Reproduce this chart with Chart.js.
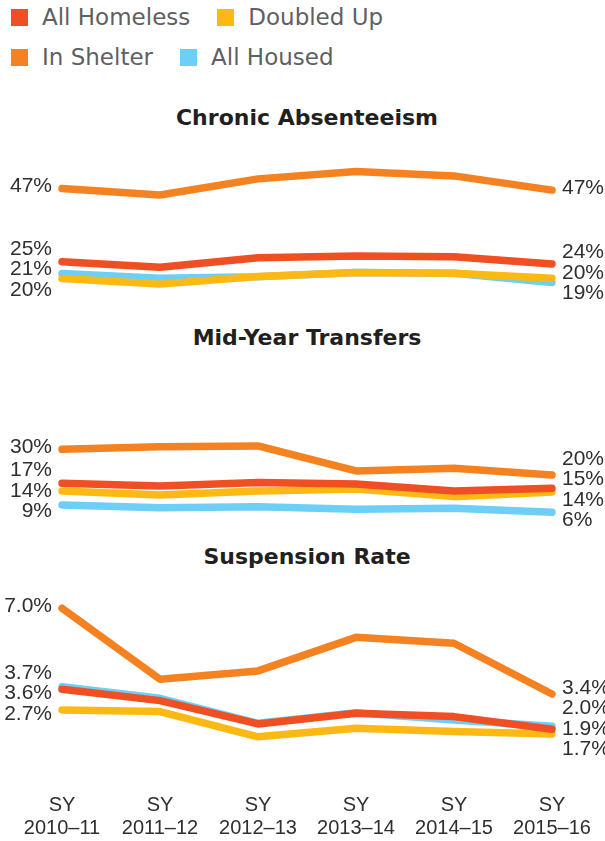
<!DOCTYPE html>
<html><head><meta charset="utf-8">
<script src="https://cdn.jsdelivr.net/npm/chart.js@4.4.1/dist/chart.umd.min.js"></script>
<style>
html,body{margin:0;padding:0;background:#fff;width:605px;height:841px;overflow:hidden;}
#wrap{position:relative;width:605px;height:841px;}
canvas{position:absolute;left:0;}
.title{position:absolute;left:62px;width:490px;text-align:center;font-family:"DejaVu Sans";font-weight:bold;font-size:22px;color:#231f20;line-height:26px;}
.legrow{position:absolute;left:11px;display:flex;align-items:center;height:26px;font-family:"DejaVu Sans";font-size:23px;color:#5f6062;white-space:nowrap;}
.item{display:flex;align-items:center;margin-right:27px;}
.sw{width:17px;height:17px;margin-right:14px;flex:none;}
</style></head>
<body><div id="wrap">
<div class="legrow" id="leg1" style="top:4px"></div>
<div class="legrow" id="leg2" style="top:44px"></div>
<div class="title" id="t1" style="top:105px"></div>
<canvas id="c1" width="605" height="170" style="top:140px"></canvas>
<div class="title" id="t2" style="top:325px"></div>
<canvas id="c2" width="605" height="180" style="top:360px"></canvas>
<div class="title" id="t3" style="top:544px"></div>
<canvas id="c3" width="605" height="266" style="top:575px"></canvas>
</div>
<script>
// ---- data ----
const seasons = [['SY','2010–11'],['SY','2011–12'],['SY','2012–13'],['SY','2013–14'],['SY','2014–15'],['SY','2015–16']];
const seriesNames = ['All Homeless','Doubled Up','In Shelter','All Housed'];
const panelTitles = ['Chronic Absenteeism','Mid-Year Transfers','Suspension Rate'];

const absHomeless = [25.0, 23.3, 26.2, 26.7, 26.5, 24.3];
const absDoubled  = [19.9, 18.2, 20.5, 21.7, 21.5, 20.0];
const absShelter  = [47.2, 45.2, 50.1, 52.3, 51.0, 46.7];
const absHoused   = [21.4, 20.0, 20.4, 21.7, 21.5, 18.7];

const trHomeless = [16.9, 15.9, 17.2, 16.7, 14.0, 15.0];
const trDoubled  = [14.0, 12.4, 14.0, 14.7, 11.8, 13.6];
const trShelter  = [30.0, 31.0, 31.3, 21.7, 22.7, 20.1];
const trHoused   = [8.6, 7.5, 7.9, 6.9, 7.3, 5.8];

const suspHomeless = [3.6, 3.12, 2.14, 2.59, 2.45, 1.92];
const suspDoubled  = [2.73, 2.66, 1.6, 1.96, 1.82, 1.72];
const suspShelter  = [7.0, 4.02, 4.37, 5.78, 5.53, 3.4];
const suspHoused   = [3.7, 3.22, 2.17, 2.61, 2.31, 2.04];

// ---- styles ----
const colors = ['#F04E23', '#FDB913', '#F58220', '#6DCFF6'];
const drawOrder = [1, 2, 0, 3];

// legend
function legendItem(i){
  return '<div class="item"><div class="sw" style="background:'+colors[i]+'"></div><span>'+seriesNames[i]+'</span></div>';
}
document.getElementById('leg1').innerHTML = legendItem(0) + legendItem(1);
document.getElementById('leg2').innerHTML = legendItem(2) + legendItem(3);
['t1','t2','t3'].forEach((id,i)=>document.getElementById(id).textContent = panelTitles[i]);

function spread(ys, gap){
  let g = ys.map(y=>({sum:y,n:1,top:y}));
  let changed = true;
  while(changed){
    changed = false;
    for(let i=0;i<g.length-1;i++){
      const a=g[i], b=g[i+1];
      if(a.top + a.n*gap > b.top + 1e-6){
        const n=a.n+b.n, sum=a.sum+b.sum;
        g.splice(i,2,{sum,n,top:sum/n-(n-1)*gap/2});
        changed = true; break;
      }
    }
  }
  const out=[];
  g.forEach(c=>{for(let k=0;k<c.n;k++) out.push(c.top+k*gap);});
  return out;
}

const endLabels = {
  id:'endLabels',
  afterDatasetsDraw(chart, args, opts){
    const ctx = chart.ctx, area = chart.chartArea;
    ctx.save();
    ctx.font = '21px "Liberation Sans"';
    ctx.fillStyle = '#2f2f2f';
    ctx.textBaseline = 'middle';
    [0, chart.data.labels.length-1].forEach((idx, side)=>{
      const items = chart.data.datasets.map((ds,i)=>{
        const pt = chart.getDatasetMeta(i).data[idx];
        return {y: pt.y, text: ds.data[idx].toFixed(opts.decimals) + '%'};
      }).sort((a,b)=>a.y-b.y);
      const ys = spread(items.map(d=>d.y), opts.gap);
      ctx.textAlign = side===0 ? 'right' : 'left';
      const x = side===0 ? area.left-10 : area.right+10;
      items.forEach((d,k)=>ctx.fillText(d.text, x, ys[k]+opts.dy));
    });
    ctx.restore();
  }
};

function makeChart(id, series, min, max, showX, decimals){
  const xScale = {display:showX, offset:false, grid:{display:false, drawTicks:false}, border:{display:false},
    ticks:{font:{family:'Liberation Sans', size:20, lineHeight:1.15}, color:'#2f2f2f', padding:3, maxRotation:0, autoSkip:false}};
  if (showX) xScale.afterFit = function(s){ s.height = 50; };
  return new Chart(document.getElementById(id), {
    type:'line',
    data:{
      labels: seasons,
      datasets: series.map((d,i)=>({
        label: seriesNames[i], data: d, borderColor: colors[i], backgroundColor: colors[i],
        order: drawOrder[i], clip: false, fill: false
      }))
    },
    options:{
      responsive:false, animation:false, devicePixelRatio:1,
      layout:{padding:{left:62,right:53,top:0,bottom:0}},
      plugins:{legend:{display:false}, tooltip:{enabled:false}, endLabels:{decimals, gap:20.5, dy:-2}},
      elements:{point:{radius:0,hoverRadius:0}, line:{borderWidth:7.5, borderCapStyle:'round', borderJoinStyle:'round', tension:0}},
      scales:{
        x: xScale,
        y:{display:false, min, max}
      }
    },
    plugins:[endLabels]
  });
}

makeChart('c1', [absHomeless, absDoubled, absShelter, absHoused], 10.36, 61.88, false, 0);
makeChart('c2', [trHomeless, trDoubled, trShelter, trHoused], -4.88, 64.35, false, 0);
makeChart('c3', [suspHomeless, suspDoubled, suspShelter, suspHoused], -0.676, 8.399, true, 1);
</script>
</body></html>
